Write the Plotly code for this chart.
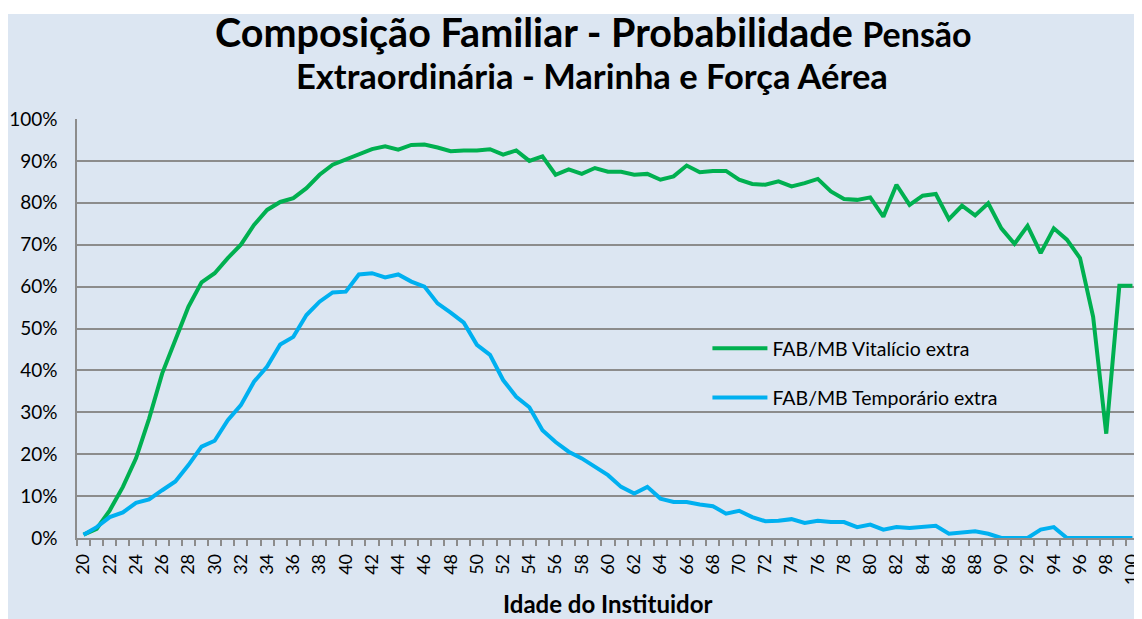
import plotly.graph_objects as go

ages = list(range(20, 101))

vitalicio = [
    0.8, 2.2, 6.6, 12.2, 19.0, 28.5, 39.3, 47.3, 55.2, 61.0,
    63.2, 66.8, 70.0, 74.7, 78.3, 80.2, 81.1, 83.5, 86.7, 89.1,
    90.3, 91.5, 92.8, 93.5, 92.7, 93.8, 93.9, 93.2, 92.3, 92.5,
    92.5, 92.8, 91.5, 92.5, 90.0, 91.1, 86.7, 88.0, 86.9, 88.3,
    87.4, 87.4, 86.7, 86.9, 85.5, 86.3, 88.9, 87.3, 87.6, 87.6,
    85.5, 84.5, 84.3, 85.1, 83.9, 84.7, 85.7, 82.7, 80.9, 80.7,
    81.3, 76.7, 84.3, 79.5, 81.7, 82.1, 76.1, 79.3, 77.0, 79.9,
    73.9, 70.2, 74.5, 68.0, 73.9, 71.2, 66.8, 52.8, 24.9, 60.2,
    60.2,
]

temporario = [
    0.8, 2.6, 5.0, 6.1, 8.4, 9.2, 11.4, 13.5, 17.4, 21.8,
    23.2, 28.1, 31.7, 37.3, 40.9, 46.2, 48.0, 53.2, 56.4, 58.6,
    58.8, 62.9, 63.2, 62.2, 62.9, 61.2, 60.0, 56.0, 53.8, 51.4,
    46.1, 43.7, 37.7, 33.7, 31.2, 25.7, 22.9, 20.6, 19.0, 17.0,
    15.0, 12.2, 10.6, 12.2, 9.4, 8.6, 8.6, 8.0, 7.6, 5.8,
    6.5, 5.0, 4.0, 4.1, 4.5, 3.6, 4.1, 3.8, 3.8, 2.6,
    3.2, 2.0, 2.6, 2.4, 2.6, 2.9, 1.0, 1.3, 1.6, 1.0,
    0.0, 0.0, 0.0, 2.0, 2.6, 0.0, 0.0, 0.0, 0.0, 0.0,
    0.0,
]

series_names = ["FAB/MB Vitalício extra", "FAB/MB Temporário extra"]
title_main = "Composição Familiar - Probabilidade"
title_small = "Pensão"
title_line2 = "Extraordinária - Marinha e Força Aérea"
x_title = "Idade do Instituidor"

BG = "#DCE6F2"
GRID = "#8C8C8C"
FONT = "Lato"

# The page body has an 8px default margin; the figure is drawn from (8, 8).
OFF = 8
SCREEN_W, SCREEN_H = 1142, 619
W, H = SCREEN_W - OFF, SCREEN_H - OFF

# Plot area in screen pixels
PL, PT, PB = 77, 119, 538
ML, MT = PL - OFF, PT - OFF
MB = H - (PB - OFF)
MR = 0
PW, PH = W - ML - MR, H - MT - MB


def px_x(sx):
    return (sx - OFF - ML) / PW


def px_y(sy):
    return (H - MB - (sy - OFF)) / PH


fig = go.Figure()
fig.add_trace(go.Scatter(
    x=ages, y=[v / 100 for v in vitalicio], mode="lines",
    name=series_names[0], line=dict(color="#00B050", width=4),
    legendgroup="a", cliponaxis=False,
))
fig.add_trace(go.Scatter(
    x=ages, y=[v / 100 for v in temporario], mode="lines",
    name=series_names[1], line=dict(color="#00B0F0", width=4),
    legendgroup="b", cliponaxis=False,
))

fig.update_layout(
    width=W, height=H,
    margin=dict(l=ML, r=MR, t=MT, b=MB, pad=0),
    paper_bgcolor=BG, plot_bgcolor=BG,
    font=dict(family=FONT, color="#000000"),
    showlegend=True,
    legend=dict(
        x=px_x(711), y=px_y(329), xanchor="left", yanchor="top",
        bgcolor="rgba(0,0,0,0)", borderwidth=0,
        font=dict(family=FONT, size=19.5, color="#000000"),
        traceorder="grouped", tracegroupgap=21, itemwidth=55,
    ),
    xaxis=dict(
        range=[19.5, 100.27], tickmode="linear", tick0=20, dtick=2,
        tickangle=-90, tickfont=dict(family=FONT, size=18, color="#000000"),
        ticks="outside", ticklen=7, tickcolor="rgba(0,0,0,0)",
        ticklabeloverflow="allow",
        showgrid=False, zeroline=False,
        showline=True, linecolor=GRID, linewidth=1.5,
        minor=dict(tick0=19.5, dtick=1, ticks="outside", ticklen=6,
                   tickcolor=GRID, tickwidth=1.5, showgrid=False),
    ),
    yaxis=dict(
        range=[0, 1], tickmode="linear", tick0=0, dtick=0.1,
        tickformat=".0%", tickfont=dict(family=FONT, size=19, color="#000000"),
        ticks="outside", ticklen=14, tickcolor="rgba(0,0,0,0)",
        showgrid=True, gridcolor=GRID, gridwidth=1.5, zeroline=False,
        showline=True, linecolor=GRID, linewidth=1.5,
    ),
    shapes=[
        dict(type="rect", xref="paper", yref="paper", layer="below",
             x0=px_x(0), x1=px_x(SCREEN_W + 10), y0=px_y(14), y1=px_y(0),
             fillcolor="#FFFFFF", line=dict(width=0)),
    ],
    annotations=[
        dict(xref="paper", yref="paper", x=px_x(596), y=px_y(31),
             xanchor="center", yanchor="middle", showarrow=False,
             text=f"<b>{title_main} <span style='font-size:34px'>{title_small}</span></b>",
             font=dict(family=FONT, size=39.5, color="#000000")),
        dict(xref="paper", yref="paper", x=px_x(595), y=px_y(75),
             xanchor="center", yanchor="middle", showarrow=False,
             text=f"<b>{title_line2}</b>",
             font=dict(family=FONT, size=34.5, color="#000000")),
        dict(xref="paper", yref="paper", x=px_x(611), y=px_y(587),
             xanchor="center", yanchor="top", showarrow=False,
             text=f"<b>{x_title}</b>",
             font=dict(family=FONT, size=24, color="#000000")),
    ],
)

fig.write_html("out.html")
